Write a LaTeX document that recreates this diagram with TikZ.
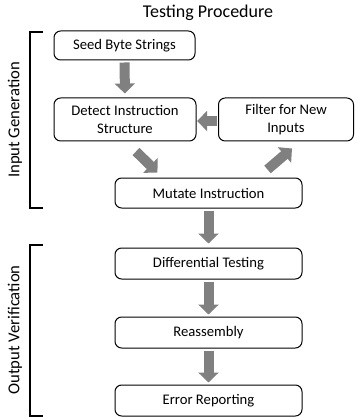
\documentclass[tikz,border=0pt]{standalone}
\usepackage{fontspec}
\setmainfont{Carlito}
\usetikzlibrary{arrows.meta,calc}

\tikzset{
  box/.style={draw,rounded corners=5pt,line width=0.75pt,align=center,
    font=\fontsize{11}{13}\selectfont,inner sep=0pt},
  bigarrow/.style={draw=black!50,line width=7.5pt,
    -{Triangle[length=7.5pt,width=15pt]}},
  bracketline/.style={line width=1.1pt},
  sidelabel/.style={rotate=90,font=\fontsize{12.5}{14}\selectfont}
}

\begin{document}
\begin{tikzpicture}[x=0.75pt,y=-0.75pt]
  \useasboundingbox (0,0) rectangle (355,417);
  % title
  \node[font=\fontsize{13.5}{15}\selectfont] (title) at (208,13) {Testing Procedure};
  % input generation
  \node[box,minimum width=141*0.75pt,minimum height=29*0.75pt] (seed) at (124.5,45.5) {Seed Byte Strings};
  \node[box,minimum width=142*0.75pt,minimum height=43*0.75pt] (detect) at (125,119.5) {Detect Instruction\\Structure};
  \node[box,minimum width=135*0.75pt,minimum height=43*0.75pt] (filter) at (286,119.5) {Filter for New\\Inputs};
  \node[box,minimum width=187*0.75pt,minimum height=30*0.75pt] (mutate) at (208.5,193) {Mutate Instruction};
  % output verification
  \node[box,minimum width=187*0.75pt,minimum height=31*0.75pt] (diff) at (208.5,263.5) {Differential Testing};
  \node[box,minimum width=187*0.75pt,minimum height=31*0.75pt] (reasm) at (208.5,332.5) {Reassembly};
  \node[box,minimum width=187*0.75pt,minimum height=31*0.75pt] (error) at (208.5,400.5) {Error Reporting};
  % arrows
  \draw[bigarrow,shorten <=1.5pt,shorten >=3pt] (seed.south) -- (detect.north);
  \draw[bigarrow] ($(detect.south)+(11,10)$) -- ($(mutate.north west)+(43,-5)$);
  \draw[bigarrow] ($(mutate.north east)+(-35,-8)$) -- ($(filter.south)+(6,7)$);
  \draw[bigarrow,shorten <=0.5pt,shorten >=0.5pt] ($(filter.west)+(0,1.5)$) -- ($(detect.east)+(0,1.5)$);
  \draw[bigarrow,shorten <=1.5pt,shorten >=3pt] (mutate.south) -- (diff.north);
  \draw[bigarrow,shorten <=1.5pt,shorten >=1.5pt] (diff.south) -- (reasm.north);
  \draw[bigarrow,shorten <=1.5pt,shorten >=1.5pt] (reasm.south) -- (error.north);
  % brackets
  \draw[bracketline] (43,32) -- (30,32) -- (30,208) -- (43,208);
  \draw[bracketline] (43,245) -- (30,245) -- (30,416) -- (43,416);
  \node[sidelabel] (ingen) at (15,120) {Input Generation};
  \node[sidelabel] (outver) at (15,330) {Output Verification};
\end{tikzpicture}
\end{document}
